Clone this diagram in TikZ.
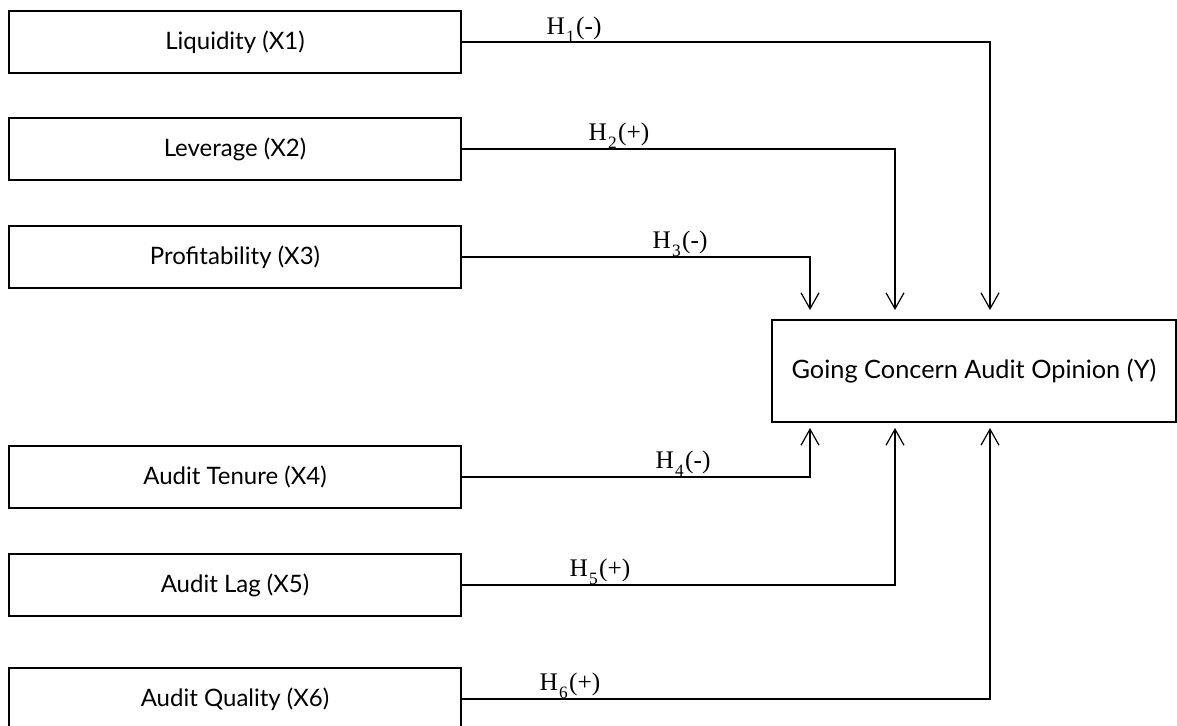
\documentclass[tikz,border=0pt]{standalone}
\usepackage{fontspec}
\setmainfont{Lato}
\newfontfamily\hfont{Liberation Serif}
\usetikzlibrary{arrows.meta}
\tikzset{
  every picture/.style={x=0.75pt,y=-0.75pt},
  vbox/.style={draw,line width=0.9pt,minimum width=339pt,minimum height=46.5pt,inner sep=0pt,font=\fontsize{18}{21}\selectfont},
  ybox/.style={draw,line width=0.9pt,minimum width=303pt,minimum height=76.5pt,inner sep=0pt,font=\fontsize{19}{22}\selectfont},
  conn/.style={line width=0.9pt,-{Straight Barb[length=12pt,width=13.5pt,line width=0.9pt]}},
  hlab/.style={anchor=base,inner sep=0pt,font=\hfont\fontsize{19}{22}\selectfont}
}
\newcommand{\hyp}[2]{H\kern1pt\raisebox{-0.7ex}{\fontsize{13}{15}\selectfont #1}\kern1pt(#2)}
\begin{document}
\begin{tikzpicture}
\clip (0,0) rectangle (1177,725);
\fill[white] (0,0) rectangle (1177,725);
\node[vbox] (b1) at (235,42) {Liquidity (X1)};
\node[vbox] (b2) at (235,149) {Leverage (X2)};
\node[vbox] (b3) at (235,257) {Profitability (X3)};
\node[vbox] (b4) at (235,477) {Audit Tenure (X4)};
\node[vbox] (b5) at (235,585) {Audit Lag (X5)};
\node[vbox] (b6) at (235,699) {Audit Quality (X6)};
\node[ybox] (y) at (974,371) {Going Concern Audit Opinion (Y)};
\coordinate (t1) at (990,310);
\coordinate (t2) at (895,310);
\coordinate (t3) at (810,310);
\coordinate (t4) at (810,428);
\coordinate (t5) at (895,428);
\coordinate (t6) at (990,428);
\draw[conn] (b1.east) -| (t1);
\draw[conn] (b2.east) -| (t2);
\draw[conn] (b3.east) -| (t3);
\draw[conn] (b4.east) -| (t4);
\draw[conn] (b5.east) -| (t5);
\draw[conn] (b6.east) -| (t6);
\node[hlab] (l1) at (574,34) {\hyp{1}{-}};
\node[hlab] (l2) at (619,140) {\hyp{2}{+}};
\node[hlab] (l3) at (680,248) {\hyp{3}{-}};
\node[hlab] (l4) at (683,468) {\hyp{4}{-}};
\node[hlab] (l5) at (600,576) {\hyp{5}{+}};
\node[hlab] (l6) at (570,690) {\hyp{6}{+}};
\end{tikzpicture}
\end{document}
